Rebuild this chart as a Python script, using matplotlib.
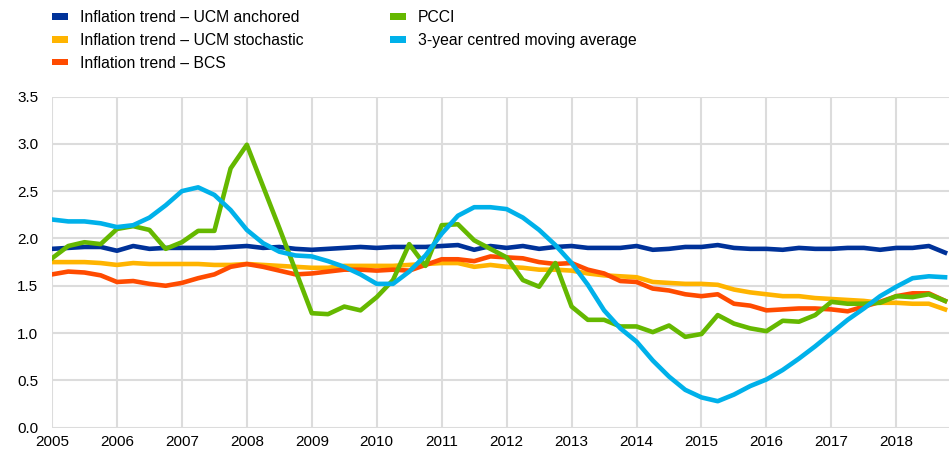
import numpy as np
import matplotlib
matplotlib.use("Agg")
import matplotlib.pyplot as plt
from matplotlib.patches import Patch

plt.rcParams['font.family'] = ['Liberation Sans', 'DejaVu Sans']

# quarterly observations, 2005Q1 - 2018Q4
start_year = 2005
years = list(range(2005, 2019))

ucm_anchored = [1.89, 1.90, 1.91, 1.91, 1.87, 1.92, 1.89, 1.90,
                1.90, 1.90, 1.90, 1.91, 1.92, 1.90, 1.91, 1.89,
                1.88, 1.89, 1.90, 1.91, 1.90, 1.91, 1.91, 1.91,
                1.92, 1.93, 1.88, 1.92, 1.90, 1.92, 1.89, 1.91,
                1.92, 1.90, 1.90, 1.90, 1.92, 1.88, 1.89, 1.91,
                1.91, 1.93, 1.90, 1.89, 1.89, 1.88, 1.90, 1.89,
                1.89, 1.90, 1.90, 1.88, 1.90, 1.90, 1.92, 1.85]

ucm_stochastic = [1.75, 1.75, 1.75, 1.74, 1.72, 1.74, 1.73, 1.73,
                  1.73, 1.73, 1.72, 1.72, 1.73, 1.72, 1.71, 1.70,
                  1.69, 1.69, 1.71, 1.71, 1.71, 1.71, 1.72, 1.73,
                  1.74, 1.74, 1.70, 1.72, 1.70, 1.69, 1.67, 1.67,
                  1.66, 1.63, 1.61, 1.60, 1.59, 1.54, 1.53, 1.52,
                  1.52, 1.51, 1.46, 1.43, 1.41, 1.39, 1.39, 1.37,
                  1.36, 1.35, 1.34, 1.32, 1.32, 1.31, 1.31, 1.25]

bcs = [1.62, 1.65, 1.64, 1.61, 1.54, 1.55, 1.52, 1.50,
       1.53, 1.58, 1.62, 1.70, 1.73, 1.70, 1.66, 1.62,
       1.63, 1.65, 1.67, 1.67, 1.66, 1.67, 1.66, 1.72,
       1.78, 1.78, 1.76, 1.81, 1.80, 1.79, 1.75, 1.73,
       1.74, 1.67, 1.63, 1.55, 1.54, 1.47, 1.45, 1.41,
       1.39, 1.41, 1.31, 1.29, 1.24, 1.25, 1.26, 1.26,
       1.25, 1.23, 1.28, 1.33, 1.39, 1.42, 1.42, 1.34]

pcci = [1.79, 1.92, 1.96, 1.94, 2.10, 2.13, 2.09, 1.89,
        1.96, 2.08, 2.08, 2.74, 2.99, 2.55, 2.11, 1.66,
        1.21, 1.20, 1.28, 1.24, 1.38, 1.56, 1.94, 1.71,
        2.14, 2.15, 1.98, 1.89, 1.80, 1.56, 1.49, 1.74,
        1.28, 1.14, 1.14, 1.07, 1.07, 1.01, 1.08, 0.96,
        0.99, 1.19, 1.10, 1.05, 1.02, 1.13, 1.12, 1.19,
        1.33, 1.31, 1.31, 1.32, 1.39, 1.38, 1.41, 1.34]

moving_avg = [2.20, 2.18, 2.18, 2.16, 2.12, 2.14, 2.22, 2.35,
              2.50, 2.54, 2.46, 2.30, 2.09, 1.95, 1.86, 1.82,
              1.81, 1.76, 1.70, 1.62, 1.52, 1.52, 1.65, 1.82,
              2.05, 2.24, 2.33, 2.33, 2.31, 2.22, 2.09, 1.93,
              1.74, 1.51, 1.24, 1.05, 0.91, 0.71, 0.54, 0.40,
              0.32, 0.28, 0.35, 0.44, 0.51, 0.61, 0.73, 0.86,
              1.00, 1.14, 1.26, 1.39, 1.49, 1.58, 1.60, 1.59]

labels = ['Inflation trend \u2013 UCM anchored',
          'Inflation trend \u2013 UCM stochastic',
          'Inflation trend \u2013 BCS',
          'PCCI',
          '3-year centred moving average']
colors = ['#003299', '#FFB400', '#FF4B00', '#65B800', '#00B1EA']

x = start_year + np.arange(len(pcci)) * 0.25

W, H = 949, 458
fig = plt.figure(figsize=(W / 100, H / 100), dpi=100)
ax = fig.add_axes([52 / W, 1 - 427.7 / H, (W - 52) / W, (427.7 - 96.5) / H])

series = [ucm_anchored, ucm_stochastic, bcs, pcci, moving_avg]
for s, c in zip(series, colors):
    ax.plot(x, s, color=c, lw=3.3, solid_joinstyle='round', zorder=3)

ax.set_xlim(2005, 2005 + (W - 52) / 64.95)
ax.set_ylim(0, 3.5)
ax.set_xticks(years)
ax.set_yticks(np.arange(0, 3.51, 0.5))
ax.set_yticklabels([f'{v:.1f}' for v in np.arange(0, 3.51, 0.5)])
ax.grid(True, color='#dcdcdc', lw=1.5)
ax.set_axisbelow(True)
for sp in ax.spines.values():
    sp.set_visible(False)
ax.tick_params(axis='both', length=0, labelsize=11, colors='#000000')
ax.tick_params(axis='y', pad=10)
ax.tick_params(axis='x', pad=5)

handles = [Patch(facecolor=c, edgecolor='none') for c in colors]
fig.legend(handles, labels, loc='upper left', ncol=2,
           bbox_to_anchor=(52 / W, 1 - 10 / H), frameon=False,
           fontsize=11.3, borderpad=0, borderaxespad=0,
           handlelength=1.05, handleheight=0.3, handletextpad=0.72,
           labelspacing=0.5, columnspacing=5.5)

fig.savefig('out.png', dpi=100)
